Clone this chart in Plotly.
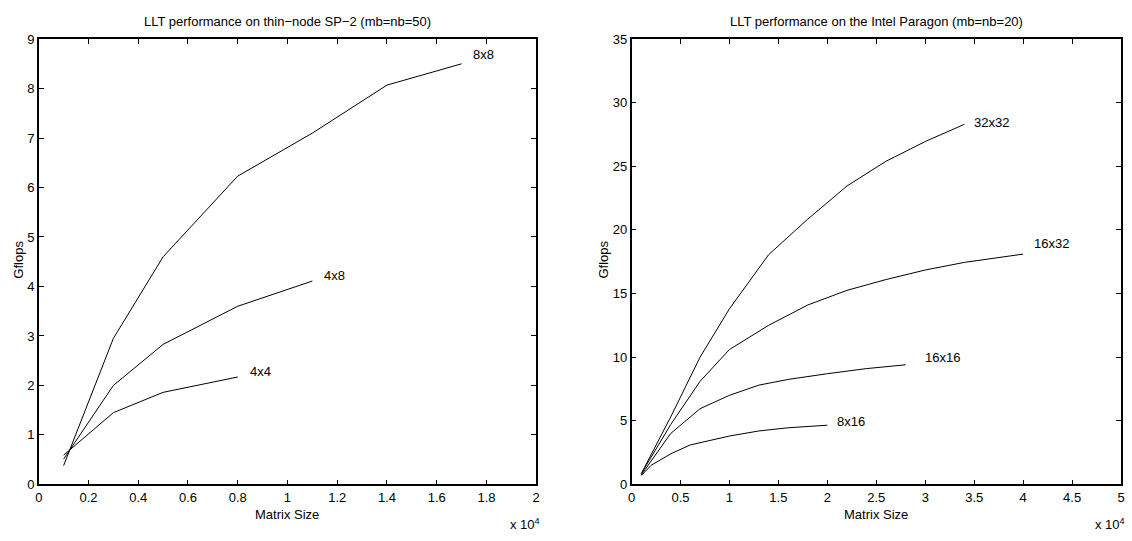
import plotly.graph_objects as go

# LLT performance, thin-node SP-2 (mb=nb=50)
sp2_sizes_8x8 = [1000, 3000, 5000, 8000, 11000, 14000, 17000]
sp2_gflops_8x8 = [0.38, 2.95, 4.6, 6.23, 7.1, 8.07, 8.5]
sp2_sizes_4x8 = [1000, 3000, 5000, 8000, 11000]
sp2_gflops_4x8 = [0.51, 2.0, 2.83, 3.6, 4.11]
sp2_sizes_4x4 = [1000, 3000, 5000, 8000]
sp2_gflops_4x4 = [0.59, 1.45, 1.86, 2.17]

# LLT performance, Intel Paragon (mb=nb=20)
par_sizes_32x32 = [1000, 4000, 7000, 10000, 14000, 18000, 22000, 26000, 30000, 34000]
par_gflops_32x32 = [0.85, 5.3, 10.0, 13.8, 18.05, 20.85, 23.45, 25.4, 26.95, 28.3]
par_sizes_16x32 = [1000, 4000, 7000, 10000, 14000, 18000, 22000, 26000, 30000, 34000, 40000]
par_gflops_16x32 = [0.85, 4.7, 8.1, 10.6, 12.5, 14.1, 15.25, 16.1, 16.85, 17.45, 18.1]
par_sizes_16x16 = [1000, 4000, 7000, 10000, 13000, 16000, 20000, 24000, 28000]
par_gflops_16x16 = [0.75, 4.0, 5.95, 7.0, 7.8, 8.25, 8.7, 9.1, 9.4]
par_sizes_8x16 = [1000, 2000, 4000, 6000, 10000, 13000, 16000, 20000]
par_gflops_8x16 = [0.7, 1.5, 2.4, 3.1, 3.8, 4.2, 4.45, 4.65]

SCALE = 1e4  # x axis shown in units of 10^4

left_series = [
    ("8x8", sp2_sizes_8x8, sp2_gflops_8x8, (1.79, 8.69)),
    ("4x8", sp2_sizes_4x8, sp2_gflops_4x8, (1.19, 4.22)),
    ("4x4", sp2_sizes_4x4, sp2_gflops_4x4, (0.89, 2.29)),
]
right_series = [
    ("32x32", par_sizes_32x32, par_gflops_32x32, (3.68, 28.44)),
    ("16x32", par_sizes_16x32, par_gflops_16x32, (4.29, 18.95)),
    ("16x16", par_sizes_16x16, par_gflops_16x16, (3.18, 9.97)),
    ("8x16", par_sizes_8x16, par_gflops_8x16, (2.24, 4.92)),
]

FONT = "Liberation Sans, Arial, sans-serif"
FS = 13
W, H = 1132, 541

fig = go.Figure()
annotations = []

for xa, ya, series in (("x", "y", left_series), ("x2", "y2", right_series)):
    for name, sizes, gflops, (lx, ly) in series:
        fig.add_trace(go.Scatter(
            x=[s / SCALE for s in sizes], y=gflops, mode="lines",
            line=dict(color="black", width=1), name=name,
            xaxis=xa, yaxis=ya, showlegend=False, hoverinfo="skip"))
        annotations.append(dict(
            x=lx, y=ly, xref=xa, yref=ya, text=name, showarrow=False,
            font=dict(family=FONT, size=FS, color="black"),
            xanchor="center", yanchor="middle"))

# panel geometry in pixels
left_px = (35, 536)
right_px = (632, 1125)
top_px, bottom_px = 33, 491

def xdom(px):
    return [px[0] / W, px[1] / W]

ydom = [(H - bottom_px) / H, (H - top_px) / H]

axis_common = dict(
    showgrid=False, zeroline=False, showline=True, linecolor="black",
    linewidth=1.5, mirror="ticks", ticks="inside", ticklen=5,
    tickwidth=1, tickcolor="black",
    tickfont=dict(family=FONT, size=FS, color="black"))

fig.update_layout(
    width=W, height=H, margin=dict(l=0, r=0, t=0, b=0),
    paper_bgcolor="white", plot_bgcolor="white",
    xaxis=dict(domain=xdom(left_px), range=[0, 2], dtick=0.2,
               anchor="y", **axis_common),
    yaxis=dict(domain=ydom, range=[0, 9], dtick=1, anchor="x",
               **axis_common),
    xaxis2=dict(domain=xdom(right_px), range=[0, 5], dtick=0.5,
                anchor="y2", **axis_common),
    yaxis2=dict(domain=ydom, range=[0, 35], dtick=5, anchor="x2",
                **axis_common),
)

def px_x(p):
    return p / W

def px_y(p):
    return 1 - p / H

text_font = dict(family=FONT, size=FS, color="black")
panels = (
    (left_px, "LLT performance on thin\u2212node SP\u22122 (mb=nb=50)", 15),
    (right_px, "LLT performance on the Intel Paragon (mb=nb=20)", 604),
)
for px, title, gx in panels:
    cx = (px[0] + px[1]) / 2
    annotations.append(dict(x=px_x(cx), y=px_y(15), xref="paper", yref="paper",
                            text=title, showarrow=False, font=text_font,
                            xanchor="center", yanchor="middle"))
    annotations.append(dict(x=px_x(cx), y=px_y(522), xref="paper", yref="paper",
                            text="Matrix Size", showarrow=False, font=text_font,
                            xanchor="center", yanchor="middle"))
    annotations.append(dict(x=px_x(px[1] + 6), y=px_y(532), xref="paper", yref="paper",
                            text="x 10<sup>4</sup>", showarrow=False, font=text_font,
                            xanchor="right", yanchor="middle"))
    annotations.append(dict(x=px_x(gx), y=px_y(260), xref="paper", yref="paper",
                            text="Gflops", showarrow=False, font=text_font, textangle=-90,
                            xanchor="center", yanchor="middle"))

fig.update_layout(annotations=annotations)

fig.write_html("out.html")
